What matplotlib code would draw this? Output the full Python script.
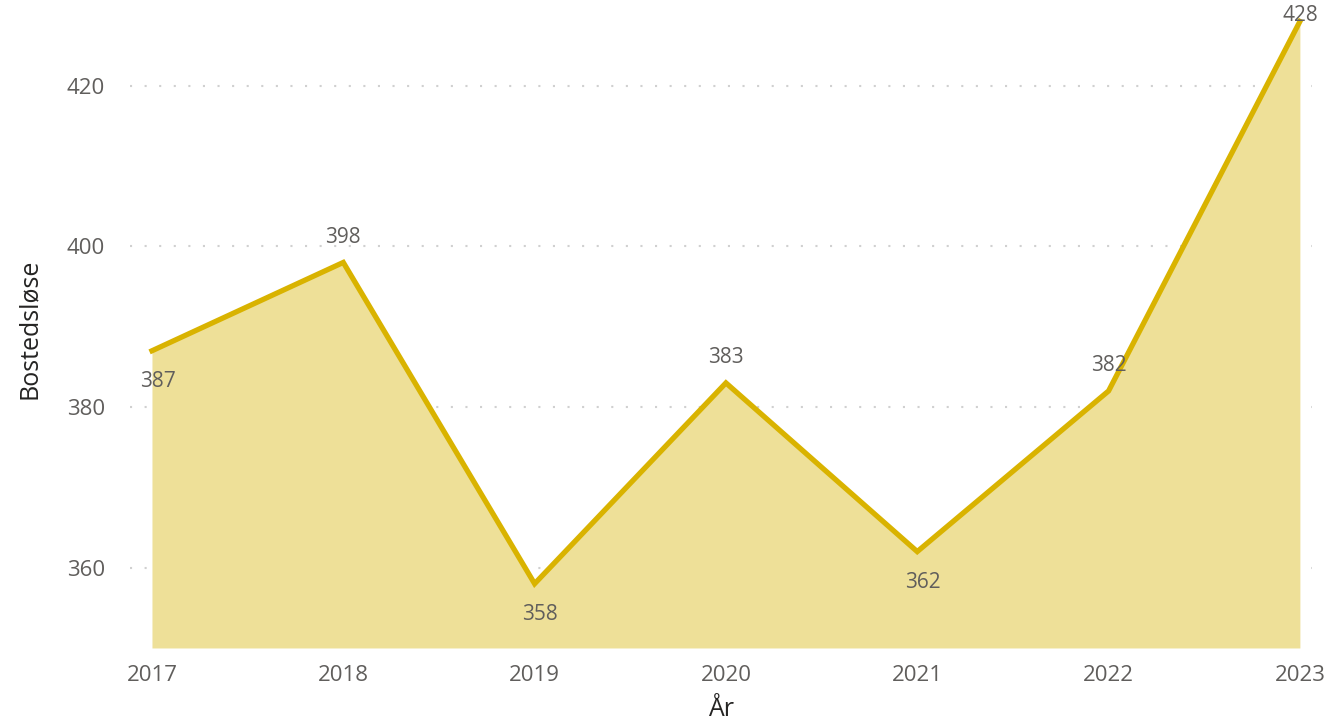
import matplotlib.pyplot as plt

plt.rcParams['font.family'] = ['Open Sans', 'DejaVu Sans']

# Data
years = [2017, 2018, 2019, 2020, 2021, 2022, 2023]
homeless = [387, 398, 358, 383, 362, 382, 428]
label_pos = ['below', 'above', 'below', 'above', 'below', 'above', 'top']
y_ticks = [360, 380, 400, 420]

line_color = '#D9B300'
fill_color = '#EEE098'
text_color = '#605E5C'

fig = plt.figure(figsize=(13.33, 7.24), dpi=100)
ax = fig.add_axes([0.0975, 0.105, 0.8867, 0.882])

ax.fill_between(years, homeless, 350, color=fill_color, linewidth=0, zorder=2)
ax.plot(years, homeless, color=line_color, linewidth=3.8, solid_joinstyle='miter', zorder=3)

# Data labels
for x, v, pos in zip(years, homeless, label_pos):
    if pos == 'above':
        ax.annotate(str(v), (x, v), xytext=(0, 18), textcoords='offset points',
                    ha='center', va='center', fontsize=15, color=text_color, zorder=4)
    elif pos == 'below':
        ax.annotate(str(v), (x, v), xytext=(4, -22), textcoords='offset points',
                    ha='center', va='center', fontsize=15, color=text_color, zorder=4)
    else:
        ax.annotate(str(v), (x, v), xytext=(0, 4), textcoords='offset points',
                    ha='center', va='center', fontsize=15, color=text_color, zorder=4)

ax.set_xlim(2016.885, 2023.063)
ax.set_ylim(350, 429.5)
ax.set_xticks(years)
ax.set_yticks(y_ticks)
ax.tick_params(length=0, labelsize=16, labelcolor=text_color)
ax.tick_params(axis='x', pad=12)
ax.tick_params(axis='y', pad=18)
ax.grid(axis='y', linestyle=(0, (1, 6)), color='#D0D0D0', linewidth=1.5, zorder=1)
for s in ax.spines.values():
    s.set_visible(False)

ax.set_xlabel('År', fontsize=18, color='#252423', labelpad=8)
ax.set_ylabel('Bostedsløse', fontsize=18, color='#252423', labelpad=18)

fig.savefig('out.png', dpi=100)
